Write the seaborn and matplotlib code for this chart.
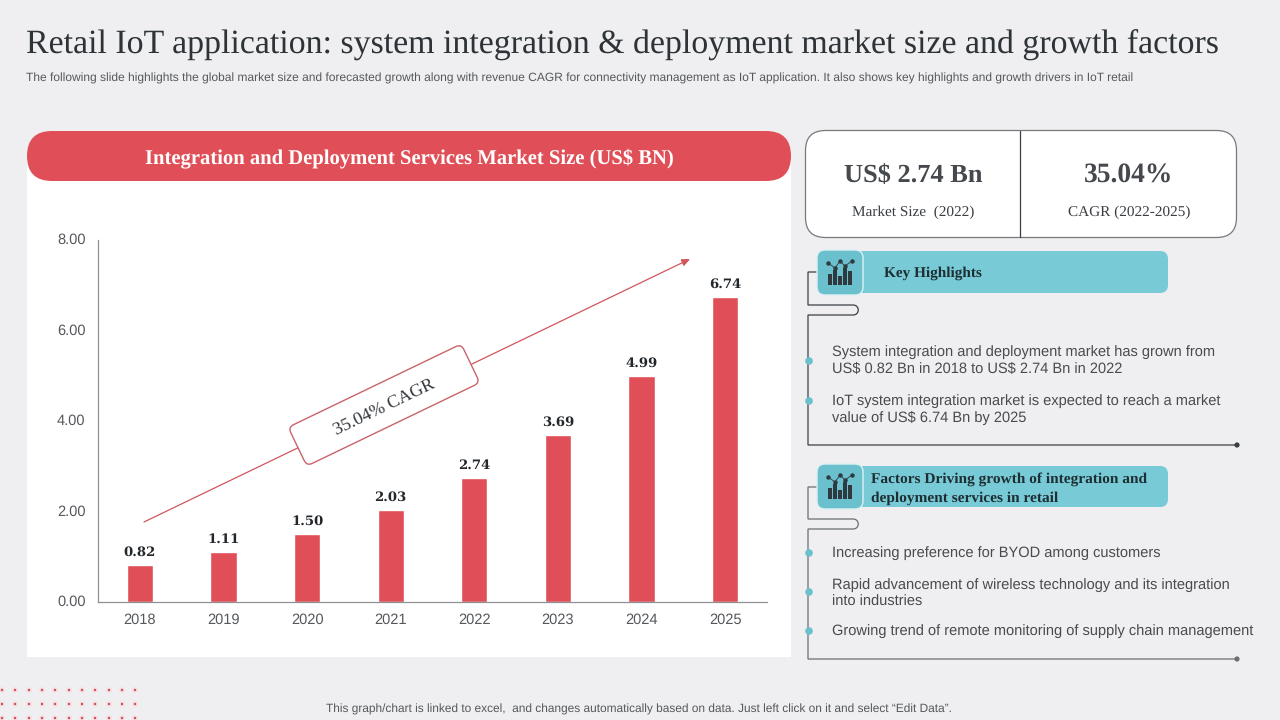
import numpy as np
import pandas as pd
import seaborn as sns
import matplotlib
matplotlib.use("Agg")
import matplotlib.pyplot as plt
from matplotlib.patches import FancyBboxPatch, Circle
from matplotlib.path import Path
from matplotlib.patches import PathPatch
from matplotlib.transforms import Affine2D

years = ["2018", "2019", "2020", "2021", "2022", "2023", "2024", "2025"]
market_size = [0.82, 1.11, 1.50, 2.03, 2.74, 3.69, 4.99, 6.74]
y_ticks = [0, 2, 4, 6, 8]

title = "Retail IoT application: system integration & deployment market size and growth factors"
subtitle = ("The following slide highlights the global market size and forecasted growth along with revenue CAGR "
            "for connectivity management as IoT application. It also shows key highlights and growth drivers in IoT retail")
panel_title = "Integration and Deployment Services Market Size (US$ BN)"
footer = "This graph/chart is linked to excel,  and changes automatically based on data. Just left click on it and select \u201cEdit Data\u201d."
highlights = ["System integration and deployment market has grown from\nUS$ 0.82 Bn in 2018 to US$ 2.74 Bn in 2022",
              "IoT system integration market is expected to reach a market\nvalue of US$ 6.74 Bn by 2025"]
factors = ["Increasing preference for BYOD among customers",
           "Rapid advancement of wireless technology and its integration\ninto industries",
           "Growing trend of remote monitoring of supply chain management"]

BG = "#EFEFF1"; RED = "#E04F57"; TEAL = "#77CAD6"; TEAL2 = "#6BC0CE"; DARK = "#3A3F45"; TXT = "#4A4A4F"
SERIF = "Liberation Serif"; SANS = "Liberation Sans"

sns.set_theme(style="white")
plt.rcParams["font.family"] = [SANS, "DejaVu Sans"]
plt.rcParams["text.hinting"] = "none"
plt.rcParams["text.hinting_factor"] = 8
plt.rcParams["ytick.alignment"] = "center"

fig = plt.figure(figsize=(12.8, 7.2), dpi=100, facecolor=BG)

# pixel-space layer for the slide furniture
bg = fig.add_axes([0, 0, 1, 1], zorder=0)
bg.set_xlim(0, 1280); bg.set_ylim(720, 0); bg.axis("off")

def rbox(ax, x0, y0, x1, y1, r, **kw):
    p = FancyBboxPatch((x0 + r, y0 + r), x1 - x0 - 2 * r, y1 - y0 - 2 * r,
                       boxstyle=f"round,pad={r},rounding_size={r}", **kw)
    ax.add_patch(p)
    return p

def put(x, y, s, **kw):
    return bg.text(x, y, s, parse_math=False, **kw)

bg.add_patch(plt.Rectangle((27, 155), 764, 502, fc="white", ec="none"))
rbox(bg, 27, 131, 791, 181, 25, fc=RED, ec="none")
put(409, 158, panel_title, family=SERIF, weight="bold", size=14.9, color="white", ha="center", va="center")

# header
put(26, 45, title, family=SERIF, size=24.4, color="#2E3338", ha="left", va="center")
put(26, 78, subtitle, size=8.64, color="#55585C", ha="left", va="center")
put(639, 709.5, footer, size=8.58, color="#55585C", ha="center", va="center")

# decorative dots
for dy in [690, 704, 718]:
    for dx in [2, 15, 29, 42, 55, 69, 82, 95, 109, 122, 135]:
        bg.add_patch(Circle((dx, dy), 2.8, fc="#F8DDE0", ec="none"))
        bg.add_patch(Circle((dx, dy), 1.2, fc="#C8505C", ec="none"))

# KPI box
rbox(bg, 805.5, 130.5, 1236.5, 237.5, 20, fc="white", ec="#77797C", lw=0.9)
bg.plot([1020, 1020], [131, 237], color="#3A3F45", lw=0.9)
put(913, 176, "US$ 2.74 Bn", family=SERIF, weight="bold", size=19, color="#45484C", ha="center", va="center")
put(1129, 176, "35.04%", family=SERIF, weight="bold", size=19.8, color="#45484C", ha="center", va="center")
put(913, 212, "Market Size  (2022)", family=SERIF, size=11, color="#3A3D41", ha="center", va="center")
put(1129, 212, "CAGR (2022-2025)", family=SERIF, size=11, color="#3A3D41", ha="center", va="center")

def connector(y_stub, y_a, y_b, y_end, color):
    verts = [(817, y_stub), (808, y_stub), (808, y_a), (853, y_a),
             (860, y_a), (860, y_b), (853, y_b), (808, y_b), (808, y_end), (1237, y_end)]
    codes = [Path.MOVETO, Path.LINETO, Path.LINETO, Path.LINETO,
             Path.CURVE4, Path.CURVE4, Path.CURVE4, Path.LINETO, Path.LINETO, Path.LINETO]
    bg.add_patch(PathPatch(Path(verts, codes), fc="none", ec=color, lw=0.9))
    bg.add_patch(Circle((1237, y_end), 2.6, fc=color, ec="none"))

def icon(y):
    rbox(bg, 817, y, 863, y + 45, 8, fc=TEAL2, ec="#DDF1F4", lw=1, zorder=3)
    cx = 840
    base = y + 35
    for i, h in enumerate([11, 15, 9, 17, 14]):
        bg.add_patch(plt.Rectangle((cx - 12.5 + i * 5.2, base - h), 4, h, fc="#2F3A40", ec="none", zorder=4))
    bg.plot([cx - 12, cx - 5, cx, cx + 5, cx + 12], [y + 13, y + 18, y + 11, y + 16, y + 11],
            color="#2F3A40", lw=0.6, marker="o", ms=2.2, zorder=4)

# Key highlights
connector(272, 305, 315, 445, "#3A3F45")
rbox(bg, 850, 251, 1168, 293, 8, fc=TEAL, ec="none")
icon(250)
put(884, 273.5, "Key Highlights", family=SERIF, weight="bold", size=11, color="#1F2E33", ha="left", va="center")
for y, s in zip([360.5, 409.5], highlights):
    put(832, y, s, size=10.5, color=TXT, ha="left", va="center", linespacing=1.33)
for y in [361, 401]:
    bg.add_patch(Circle((809, y), 3.8, fc=TEAL2, ec="none", zorder=3))

# Factors
connector(487, 519, 529, 659, "#6A6E72")
rbox(bg, 850, 466, 1168, 507, 8, fc=TEAL, ec="none")
icon(464)
put(871, 488.5, "Factors Driving growth of integration and\ndeployment services in retail",
    family=SERIF, weight="bold", size=11.05, color="#1F2E33", ha="left", va="center", linespacing=1.48)
for y, s in zip([553, 593.5, 631.5], factors):
    put(832, y, s, size=10.5, color=TXT, ha="left", va="center", linespacing=1.33)
for y in [553, 592, 631]:
    bg.add_patch(Circle((809, y), 3.8, fc=TEAL2, ec="none", zorder=3))

# chart
ax = fig.add_axes([98 / 1280, (720 - 602) / 720, (767 - 98) / 1280, (602 - 240) / 720], zorder=1)
ax.patch.set_alpha(0)
df = pd.DataFrame({"year": years, "size": market_size})
sns.barplot(data=df, x="year", y="size", color=RED, saturation=1, width=0.315, ax=ax)
ax.set_xlim(-0.5, 7.5); ax.set_ylim(0, 8)
ax.set_xlabel(""); ax.set_ylabel("")
ax.set_yticks(y_ticks); ax.set_yticklabels([f"{v:.2f}" for v in y_ticks])
ax.tick_params(axis="both", length=0, labelsize=10.5, labelcolor="#55585C")
ax.tick_params(axis="y", pad=9)
ax.tick_params(axis="x", pad=8)
sns.despine(ax=ax)
for s in ["left", "bottom"]:
    ax.spines[s].set_color("#8E9093"); ax.spines[s].set_linewidth(0.9)
for c in ax.containers:
    ax.bar_label(c, fmt="%.2f", family="DejaVu Serif", weight="bold", size=9.5, color="#22272B", padding=4.5)

# CAGR arrow and tag above the chart
top = fig.add_axes([0, 0, 1, 1], zorder=2)
top.set_xlim(0, 1280); top.set_ylim(720, 0); top.axis("off"); top.patch.set_alpha(0)
top.annotate("", xy=(690, 259), xytext=(144, 522),
             arrowprops=dict(arrowstyle="-|>,head_length=0.4,head_width=0.18", color="#D2555C", lw=0.9, shrinkA=0, shrinkB=0))
cx, cy, w, h = 384, 405, 192, 43
rot = Affine2D().rotate_deg_around(cx, cy, -25.7) + top.transData
top.add_patch(FancyBboxPatch((cx - w / 2 + 6, cy - h / 2 + 6), w - 12, h - 12,
                             boxstyle="round,pad=6,rounding_size=6", fc="white", ec="#C8646A", lw=1,
                             transform=rot, zorder=5))
top.text(cx + 1, cy + 3, "35.04% CAGR", family=SERIF, size=13, color="#33373B",
         rotation=25.7, rotation_mode="anchor", ha="center", va="center", zorder=6)

fig.savefig("out.png", dpi=100, facecolor=BG)
